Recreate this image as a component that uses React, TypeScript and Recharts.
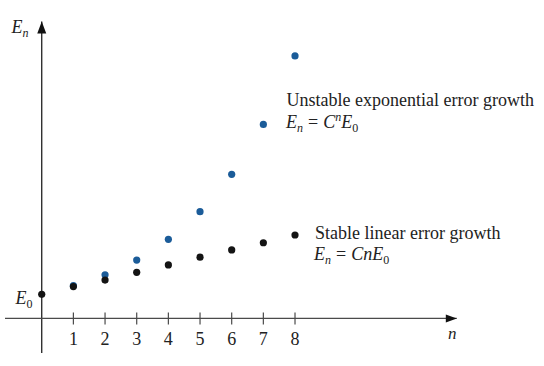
import React from "react";
import { ScatterChart, Scatter, XAxis, YAxis, ReferenceLine, ReferenceDot } from "recharts";

// error size after n steps, in units of E0
const steps = [0, 1, 2, 3, 4, 5, 6, 7, 8];
const stableErrors = [1.0, 1.32, 1.59, 1.91, 2.22, 2.54, 2.84, 3.14, 3.46];
const unstableSteps = [1, 2, 3, 4, 5, 6, 7, 8];
const unstableErrors = [1.36, 1.81, 2.42, 3.28, 4.43, 5.98, 8.05, 10.89];
const stepTicks = [1, 2, 3, 4, 5, 6, 7, 8];
const errorTicks = [1];

const stableData = steps.map((n, i) => ({ n, e: stableErrors[i] }));
const unstableData = unstableSteps.map((n, i) => ({ n, e: unstableErrors[i] }));

const serif = "'Liberation Serif', 'Times New Roman', serif";
const axisColor = "#4a4a4a";
const blue = "#1b5c99";
const black = "#141414";

const xDomain = [-1.16, 13.11];
const yDomain = [0, 12.32];

const Dot = (color: string) => (props: any) => (
  <circle cx={props.cx} cy={props.cy} r={3.6} fill={color} />
);

const StepTick = (props: any) => {
  const { x, y, payload } = props;
  return (
    <g>
      <line x1={x} x2={x} y1={y - 6} y2={y + 6} stroke={axisColor} strokeWidth={1.2} />
      <text x={x} y={y + 26.5} textAnchor="middle" fontFamily={serif} fontSize={18} fill="#222">
        {payload.value}
      </text>
    </g>
  );
};

// E0 label sits at the height of the first error value on the y scale
const E0Tick = (props: any) => {
  const { y } = props;
  return (
    <text x={15.5} y={y + 10} fontFamily={serif} fontSize={18} fill="#222">
      <tspan fontStyle="italic">E</tspan>
      <tspan fontSize={12} dy={4}>0</tspan>
    </text>
  );
};

const ArrowRight = (props: any) => (
  <path d={`M${props.cx},${props.cy} L${props.cx - 11},${props.cy - 4} L${props.cx - 11},${props.cy + 4} Z`} fill="#111" />
);

const ArrowUp = (props: any) => (
  <path d={`M${props.cx},${props.cy} L${props.cx - 4.5},${props.cy + 12} L${props.cx + 4.5},${props.cy + 12} Z`} fill="#111" />
);

const Notes = () => (
  <g fontFamily={serif} fill="#222">
    <text x={11.5} y={32.5} fontSize={18}>
      <tspan fontStyle="italic">E</tspan>
      <tspan fontSize={12} fontStyle="italic" dy={4}>n</tspan>
    </text>
    <text x={448} y={338.5} fontSize={17} fontStyle="italic">n</text>

    <text x={286.5} y={106} fontSize={18}>Unstable exponential error growth</text>
    <text x={286} y={127.5} fontSize={18}>
      <tspan fontStyle="italic">E</tspan>
      <tspan fontSize={12} fontStyle="italic" dy={4}>n</tspan>
      <tspan dy={-4} dx={5}>=</tspan>
      <tspan fontStyle="italic" dx={5}>C</tspan>
      <tspan fontSize={12} fontStyle="italic" dy={-7}>n</tspan>
      <tspan fontStyle="italic" dy={7}>E</tspan>
      <tspan fontSize={12} dy={4}>0</tspan>
    </text>

    <text x={315} y={238.5} fontSize={18}>Stable linear error growth</text>
    <text x={314} y={260} fontSize={18}>
      <tspan fontStyle="italic">E</tspan>
      <tspan fontSize={12} fontStyle="italic" dy={4}>n</tspan>
      <tspan dy={-4} dx={5}>=</tspan>
      <tspan fontStyle="italic" dx={5}>CnE</tspan>
      <tspan fontSize={12} dy={4}>0</tspan>
    </text>
  </g>
);

export default function App() {
  return (
    <div style={{ position: "absolute", left: 0, top: 0, background: "#fff" }}>
      <ScatterChart width={544} height={366} margin={{ top: 21.5, right: 87.2, bottom: 17.6, left: 4 }}>
        <XAxis
          type="number"
          dataKey="n"
          domain={xDomain}
          ticks={stepTicks}
          interval={0}
          allowDataOverflow
          height={30}
          axisLine={{ stroke: axisColor, strokeWidth: 1.3 }}
          tickLine={false}
          tickSize={0}
          tickMargin={0}
          tick={<StepTick />}
        />
        <YAxis
          type="number"
          dataKey="e"
          domain={yDomain}
          ticks={errorTicks}
          interval={0}
          allowDataOverflow
          width={1}
          axisLine={false}
          tickLine={false}
          tickSize={0}
          tickMargin={0}
          tick={<E0Tick />}
        />
        <ReferenceLine
          segment={[{ x: 0, y: -1.44 }, { x: 0, y: yDomain[1] }]}
          stroke="#222"
          strokeWidth={1.3}
          ifOverflow="visible"
        />
        <ReferenceDot x={xDomain[1]} y={0} r={0} ifOverflow="visible" shape={ArrowRight} />
        <ReferenceDot x={0} y={yDomain[1]} r={0} ifOverflow="visible" shape={ArrowUp} />
        <Scatter data={unstableData} shape={Dot(blue)} isAnimationActive={false} />
        <Scatter data={stableData} shape={Dot(black)} isAnimationActive={false} />
        <Notes />
      </ScatterChart>
    </div>
  );
}
